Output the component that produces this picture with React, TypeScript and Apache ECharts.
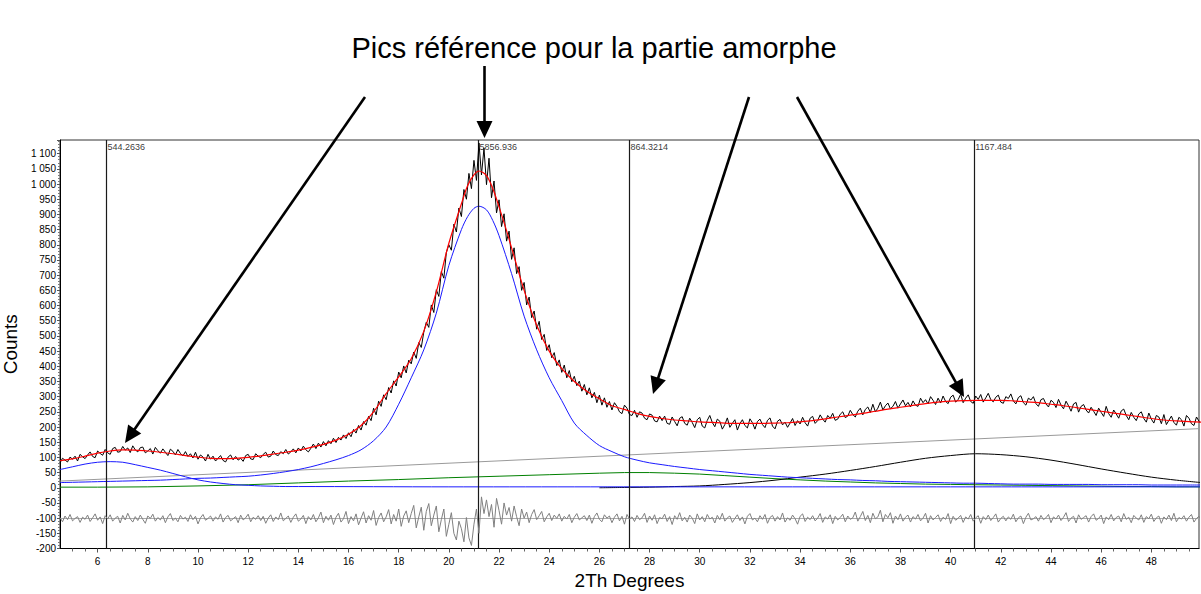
import React, { useEffect, useRef } from "react";
import * as echarts from "echarts";

// ---- Observed pattern (sampled every 0.1° from 4.5°) ----
const OBS_START = 4.5;
const OBS_STEP = 0.1;
const observed = [
  82, 97, 91, 85, 101, 94, 104, 88, 110, 102,
  96, 108, 118, 103, 99, 121, 113, 107, 126, 115,
  110, 129, 133, 117, 119, 136, 124, 131, 116, 138,
  125, 118, 132, 134, 115, 121, 129, 111, 133, 122,
  114, 128, 117, 106, 127, 120, 108, 126, 113, 105,
  119, 103, 112, 98, 117, 94, 108, 101, 88, 110,
  94, 104, 88, 97, 106, 90, 85, 101, 108, 92,
  103, 91, 97, 87, 106, 110, 95, 93, 112, 104,
  99, 110, 117, 101, 104, 121, 109, 106, 119, 112,
  126, 111, 118, 128, 115, 131, 121, 137, 125, 118,
  130, 144, 129, 147, 134, 152, 138, 155, 145, 163,
  149, 166, 157, 174, 162, 181, 168, 192, 180, 205,
  190, 218, 206, 235, 221, 262, 240, 285, 268, 306,
  290, 330, 312, 352, 335, 381, 362, 401, 378, 420,
  408, 447, 426, 478, 462, 512, 545, 528, 602, 577,
  652, 630, 712, 690, 775, 800, 782, 868, 842, 921,
  893, 982, 950, 1035, 985, 1078, 1012, 1135, 1030, 1118,
  998, 1085, 955, 1010, 905, 948, 860, 902, 812, 845,
  752, 790, 705, 728, 650, 676, 602, 628, 560, 582,
  522, 548, 488, 505, 452, 471, 428, 445, 402, 421,
  380, 404, 362, 386, 349, 367, 336, 351, 318, 340,
  306, 329, 296, 314, 280, 305, 272, 296, 265, 284,
  256, 280, 268, 250, 244, 272, 262, 241, 238, 255,
  232, 250, 246, 229, 224, 243, 239, 220, 217, 236,
  221, 236, 212, 209, 233, 218, 204, 229, 234, 212,
  206, 229, 215, 198, 224, 232, 203, 197, 222, 238,
  215, 201, 226, 219, 193, 208, 230, 199, 212, 224,
  190, 211, 224, 205, 197, 227, 214, 193, 218, 226,
  208, 198, 222, 230, 203, 194, 219, 225, 207, 216,
  199, 213, 228, 205, 221, 210, 232, 214, 203, 229,
  235, 212, 221, 240, 226, 216, 238, 229, 245, 222,
  226, 242, 250, 231, 236, 255, 241, 233, 252, 262,
  240, 258, 266, 248, 275, 250, 262, 282, 256, 270,
  279, 260, 268, 284, 262, 276, 289, 270, 281, 266,
  286, 272, 268, 295, 280, 290, 276, 300, 288, 274,
  295, 279, 302, 284, 277, 298, 305, 282, 290, 308,
  280, 295, 306, 284, 278, 302, 291, 307, 282, 296,
  311, 290, 283, 298, 305, 282, 278, 300, 294, 309,
  286, 276, 297, 303, 280, 272, 295, 289, 300, 277,
  268, 290, 294, 276, 266, 288, 281, 264, 291, 272,
  260, 285, 270, 252, 276, 281, 249, 268, 274, 256,
  246, 265, 252, 238, 262, 248, 235, 268, 244, 232,
  256, 243, 229, 253, 259, 238, 224, 248, 232, 221,
  243, 250, 228, 216, 246, 226, 213, 238, 233, 211,
  241, 208, 222, 236, 215, 206, 232, 224, 203, 238,
  229, 211, 205, 233, 219, 209,
];

// ---- Difference curve (offset to -100), same sampling ----
const residual = [
  -98, -112, -93, -105, -88, -109, -101, -95, -114, -97,
  -104, -90, -111, -99, -86, -107, -96, -118, -92, -103,
  -89, -110, -100, -94, -116, -91, -106, -84, -102, -113,
  -95, -108, -90, -104, -117, -93, -101, -87, -110, -98,
  -106, -92, -115, -96, -85, -108, -100, -112, -91, -103,
  -97, -111, -89, -105, -94, -119, -99, -88, -107, -101,
  -93, -110, -96, -104, -86, -113, -98, -91, -109, -102,
  -95, -115, -90, -106, -99, -87, -112, -97, -104, -92,
  -108, -94, -117, -100, -89, -111, -96, -105, -83, -109,
  -101, -93, -114, -97, -86, -110, -103, -91, -118, -95,
  -106, -88, -112, -99, -80, -115, -94, -107, -90, -121,
  -97, -84, -113, -102, -78, -118, -95, -109, -86, -122,
  -100, -79, -116, -92, -107, -75, -124, -98, -83, -112,
  -96, -72, -119, -88, -110, -70, -127, -93, -76, -115,
  -85, -58, -132, -96, -64, -140, -78, -52, -125, -90,
  -60, -145, -105, -70, -160, -120, -82, -150, -172, -110,
  -135, -178, -98, -165, -190, -120, -70, -150, -30, -85,
  -40, -95, -55, -130, -35, -75, -120, -50, -90, -65,
  -110, -60, -95, -125, -70, -100, -80, -115, -88, -72,
  -105, -92, -78, -112, -96, -84, -108, -90, -101, -86,
  -110, -94, -103, -88, -115, -97, -85, -106, -99, -92,
  -108, -90, -117, -95, -83, -104, -112, -89, -100, -93,
  -115, -97, -86, -109, -94, -120, -88, -103, -96, -111,
  -91, -105, -99, -84, -114, -93, -107, -89, -118, -98,
  -102, -87, -111, -95, -121, -92, -104, -82, -109, -97,
  -113, -90, -100, -118, -86, -106, -95, -112, -88, -103,
  -97, -116, -91, -105, -84, -110, -99, -93, -114, -101,
  -89, -108, -96, -119, -94, -85, -106, -100, -112, -92,
  -104, -88, -117, -98, -91, -110, -95, -106, -83, -113,
  -99, -107, -90, -102, -120, -94, -86, -111, -97, -105,
  -92, -109, -100, -85, -114, -96, -103, -89, -118, -94,
  -106, -98, -87, -112, -93, -104, -99, -80, -110, -95,
  -78, -108, -91, -115, -84, -102, -96, -74, -112, -88,
  -99, -82, -117, -93, -105, -86, -110, -97, -90, -113,
  -95, -103, -88, -109, -100, -84, -116, -92, -106, -98,
  -89, -111, -97, -104, -85, -118, -94, -107, -100, -91,
  -114, -96, -103, -88, -110, -99, -92, -117, -95, -105,
  -90, -108, -98, -86, -113, -101, -94, -109, -96, -104,
  -87, -112, -99, -93, -118, -97, -84, -106, -102, -95,
  -110, -91, -105, -99, -88, -115, -96, -103, -90, -108,
  -97, -82, -111, -100, -94, -116, -89, -104, -98, -92,
  -113, -95, -86, -107, -101, -90, -118, -96, -105, -88,
  -109, -98, -93, -112, -85, -104, -97, -115, -91, -100,
  -106, -89, -114, -95, -102, -87, -111, -99, -93, -117,
  -96, -105, -90, -108, -84, -112, -98, -103, -92, -110,
  -97, -88, -113, -101, -94, -106,
];

// ---- Fitted curves (sampled every 0.5° from 4.5°, plus extra points at the peak top) ----
const FIT_START = 4.5;
const FIT_STEP = 0.5;
const fitTotal = [
  89, 95, 104, 114, 121, 125, 124, 121, 117, 112,
  106, 101, 97, 96, 97, 100, 105, 111, 117, 124,
  133, 143, 157, 176, 205, 250, 310, 365, 425, 515,
  645, 805, 935, 1030, 1028, 925, 790, 650, 535, 450,
  392, 350, 318, 293, 270, 258, 245, 235, 228, 223,
  220, 217, 215, 213, 212, 212, 212, 213, 214, 217,
  221, 227, 233, 239, 245, 252, 259, 265, 271, 277,
  282, 285, 287, 288, 288, 288, 286, 283, 280, 275,
  270, 264, 258, 252, 246, 240, 234, 228, 223, 220,
  218, 216,
];
const fitTopX = [20.75, 21.2, 21.75, 22.25];
const fitTopY = [995, 1043, 985, 860];

const mainPeak = [
  17, 18, 19, 20, 21, 22, 23, 24, 25, 27,
  29, 31, 32, 34, 36, 38, 42, 47, 53, 60,
  69, 80, 92, 106, 125, 155, 200, 275, 362, 454,
  575, 732, 850, 920, 915, 830, 705, 565, 454, 362,
  287, 213, 172, 139, 119, 102, 91, 82, 76, 70,
  65, 60, 56, 52, 48, 44, 41, 38, 35, 33,
  31, 29, 27, 26, 24, 23, 21, 20, 19, 18,
  17, 16, 15, 15, 14, 13, 12, 12, 12, 11,
  11, 11, 11, 10, 10, 10, 10, 9, 9, 9,
  9, 9,
];
const mainTopX = [20.75, 21.2, 21.75];
const mainTopY = [893, 927, 880];

// first amorphous hump (~6.3°) and its flat tail
const smallPeakX = [4.5, 5, 5.5, 6, 6.5, 7, 7.5, 8, 8.5, 9, 9.5, 10, 10.5, 11, 11.5, 12, 12.5, 13, 13.5, 14, 20, 30, 40, 50];
const smallPeakY = [60, 69, 78, 84, 86, 84, 76, 67, 58, 47, 36, 26, 19, 14, 10, 8, 6, 5, 4, 4, 3, 3, 3, 3];

// linear background
const backgroundX = [4.5, 50];
const backgroundY = [22, 195];

// broad green component
const greenX = [4.5, 6, 8, 10, 12, 14, 16, 18, 20, 22, 24, 26, 27, 28, 29, 30, 31, 32, 33, 34, 35, 36, 37, 38, 39, 40, 41, 42, 43, 44, 45, 46, 47, 48, 49, 50];
const greenY = [2, 2, 3, 6, 10, 16, 22, 27, 33, 38, 43, 48, 50, 50, 48, 45, 40, 35, 30, 26, 22, 19, 16, 14, 12, 11, 10, 9, 8, 7, 6, 5, 4, 4, 3, 3];

// black component around 41°
const peak41X = [26, 27, 28, 29, 30, 31, 32, 33, 34, 35, 36, 37, 38, 39, 40, 41, 42, 43, 44, 45, 46, 47, 48, 49, 50];
const peak41Y = [0, 1, 2, 4, 6, 11, 17, 25, 35, 45, 57, 70, 84, 97, 106, 112, 109, 102, 91, 77, 62, 48, 35, 25, 17];

// reference lines and their labels
const refLineX = [6.35, 21.18, 27.2, 40.94];
const refLineLabels = ["544.2636", "5856.936", "864.3214", "1167.484"];

// axis ticks
const xTickLabels = [6, 8, 10, 12, 14, 16, 18, 20, 22, 24, 26, 28, 30, 32, 34, 36, 38, 40, 42, 44, 46, 48];
const X_MIN = 4.5;
const X_MAX = 49.9;
const Y_MIN = -200;
const Y_MAX = 1145;
const Y_INTERVAL = 50;

const TITLE = "Pics référence pour la partie amorphe";
const X_NAME = "2Th Degrees";
const Y_NAME = "Counts";

// annotation arrows (page pixel positions: start, tip)
const arrowStarts = [[365, 97], [484.5, 66], [749, 97], [797, 97]];
const arrowTips = [[125, 443], [484.5, 138], [653, 394], [964, 397]];

const FONT = "Arial, 'Liberation Sans', Helvetica, sans-serif";

function buildArrows() {
  const els: any[] = [];
  arrowStarts.forEach((s, i) => {
    const t = arrowTips[i];
    const dx = t[0] - s[0];
    const dy = t[1] - s[1];
    const len = Math.sqrt(dx * dx + dy * dy);
    const ux = dx / len;
    const uy = dy / len;
    const headLen = 17;
    const headHalf = 8;
    const bx = t[0] - ux * headLen;
    const by = t[1] - uy * headLen;
    els.push({
      type: "line",
      shape: { x1: s[0], y1: s[1], x2: bx + ux * 2, y2: by + uy * 2 },
      style: { stroke: "#000", lineWidth: 2.6 },
      z: 100,
    });
    els.push({
      type: "polygon",
      shape: {
        points: [
          [t[0], t[1]],
          [bx - uy * headHalf, by + ux * headHalf],
          [bx + uy * headHalf, by - ux * headHalf],
        ],
      },
      style: { fill: "#000" },
      z: 100,
    });
  });
  return els;
}

export default function App() {
  const ref = useRef<HTMLDivElement>(null);

  useEffect(() => {
    if (!ref.current) return;
    const chart = echarts.init(ref.current, undefined, { renderer: "svg" });

    const pair = (xs: number[], ys: number[]) => xs.map((x, i) => [x, ys[i]]);
    const byX = (a: number[], b: number[]) => a[0] - b[0];
    const obsData = observed.map((v, i) => [+(OBS_START + i * OBS_STEP).toFixed(2), v]);
    const resData = residual.map((v, i) => [+(OBS_START + i * OBS_STEP).toFixed(2), v]);
    const fitData = fitTotal
      .map((v, i) => [FIT_START + i * FIT_STEP, v])
      .concat(pair(fitTopX, fitTopY))
      .sort(byX);
    const mainData = mainPeak
      .map((v, i) => [FIT_START + i * FIT_STEP, v])
      .concat(pair(mainTopX, mainTopY))
      .sort(byX);

    const minorTicks: number[] = [];
    for (let v = 5; v <= 49.5; v += 0.5) {
      if (!xTickLabels.includes(v)) minorTicks.push(v);
    }

    const lineBase = {
      type: "line" as const,
      showSymbol: false,
      symbol: "none",
      silent: true,
      animation: false,
    };

    chart.setOption({
      animation: false,
      backgroundColor: "#fff",
      textStyle: { fontFamily: FONT },
      grid: {
        left: 60,
        right: 2,
        top: 140,
        bottom: 45.5,
        show: true,
        borderColor: "#333",
        borderWidth: 1,
        containLabel: false,
        outerBoundsMode: "none",
      },
      xAxis: [
        {
          type: "value",
          min: X_MIN,
          max: X_MAX,
          name: X_NAME,
          nameLocation: "middle",
          nameGap: 20,
          nameTextStyle: { fontSize: 19, color: "#000", fontFamily: FONT },
          axisLine: { show: true, onZero: false, lineStyle: { color: "#000", width: 1.2 } },
          axisTick: { show: true, customValues: xTickLabels, length: 4, lineStyle: { color: "#555" } },
          axisLabel: {
            show: true,
            customValues: xTickLabels,
            fontSize: 10,
            color: "#000",
            margin: 8,
            fontFamily: FONT,
          },
          splitLine: { show: false },
        },
        {
          type: "value",
          min: X_MIN,
          max: X_MAX,
          position: "bottom",
          axisLine: { show: false, onZero: false },
          axisTick: { show: true, customValues: minorTicks, length: 3, lineStyle: { color: "#666" } },
          axisLabel: { show: false },
          splitLine: { show: false },
        },
      ],
      yAxis: {
        type: "value",
        min: Y_MIN,
        max: Y_MAX,
        interval: Y_INTERVAL,
        name: Y_NAME,
        nameLocation: "middle",
        nameGap: 33,
        nameTextStyle: { fontSize: 19, color: "#000", fontFamily: FONT },
        axisLine: { show: true, onZero: false, lineStyle: { color: "#000", width: 1 } },
        axisTick: { show: true, length: 3, lineStyle: { color: "#555" } },
        minorTick: { show: true, splitNumber: 5, length: 2, lineStyle: { color: "#777" } },
        axisLabel: {
          fontSize: 10,
          color: "#000",
          margin: 4,
          showMaxLabel: false,
          fontFamily: FONT,
          formatter: (v: number) => {
            if (v % 50 !== 0) return "";
            if (v >= 1000) {
              const th = Math.floor(v / 1000);
              const rest = String(v % 1000).padStart(3, "0");
              return th + " " + rest;
            }
            return String(v);
          },
        },
        splitLine: { show: false },
      },
      graphic: [
        {
          type: "text",
          x: 594,
          y: 47.5,
          style: {
            text: TITLE,
            fontSize: 29,
            fontFamily: FONT,
            fill: "#000",
            textAlign: "center",
            textVerticalAlign: "middle",
          },
          z: 100,
        },
        ...buildArrows(),
      ],
      series: [
        {
          ...lineBase,
          name: "background",
          data: pair(backgroundX, backgroundY),
          lineStyle: { color: "#9a9a9a", width: 1 },
          z: 2,
        },
        {
          ...lineBase,
          name: "green",
          data: pair(greenX, greenY),
          lineStyle: { color: "#008000", width: 1 },
          z: 3,
        },
        {
          ...lineBase,
          name: "peak41",
          data: pair(peak41X, peak41Y),
          smooth: 0.3,
          lineStyle: { color: "#000", width: 1 },
          z: 3,
        },
        {
          ...lineBase,
          name: "smallPeak",
          data: pair(smallPeakX, smallPeakY),
          smooth: 0.3,
          lineStyle: { color: "#1a1aff", width: 1 },
          z: 4,
        },
        {
          ...lineBase,
          name: "mainPeak",
          data: mainData,
          smooth: 0.3,
          lineStyle: { color: "#1a1aff", width: 1 },
          z: 4,
        },
        {
          ...lineBase,
          name: "difference",
          data: resData,
          lineStyle: { color: "#808080", width: 1 },
          z: 5,
          markLine: {
            silent: true,
            symbol: ["none", "none"],
            label: { show: false },
            lineStyle: { color: "#aaa", width: 1, type: "solid" },
            data: [{ yAxis: -100 }],
          },
        },
        {
          ...lineBase,
          name: "observed",
          data: obsData,
          lineStyle: { color: "#000", width: 1 },
          z: 6,
        },
        {
          ...lineBase,
          name: "fit",
          data: fitData,
          smooth: 0.3,
          lineStyle: { color: "#ff0000", width: 1.2 },
          z: 7,
        },
        {
          type: "scatter",
          name: "refLines",
          silent: true,
          clip: false,
          symbolSize: 1,
          itemStyle: { color: "rgba(0,0,0,0)" },
          data: refLineX.map((x, i) => ({ value: [x, Y_MAX], name: refLineLabels[i] })),
          label: {
            show: true,
            position: [1.5, 3],
            formatter: (p: any) => p.name,
            fontSize: 9,
            color: "#000",
            fontFamily: FONT,
          },
          markLine: {
            silent: true,
            symbol: ["none", "none"],
            label: { show: false },
            lineStyle: { color: "#1a1a1a", width: 1.2, type: "solid" },
            data: refLineX.map((x) => ({ xAxis: x })),
          },
          z: 8,
        },
      ],
    });

    return () => {
      chart.dispose();
    };
  }, []);

  return (
    <div
      ref={ref}
      style={{ position: "fixed", left: 0, top: 0, width: 1201, height: 594, background: "#fff" }}
    />
  );
}
